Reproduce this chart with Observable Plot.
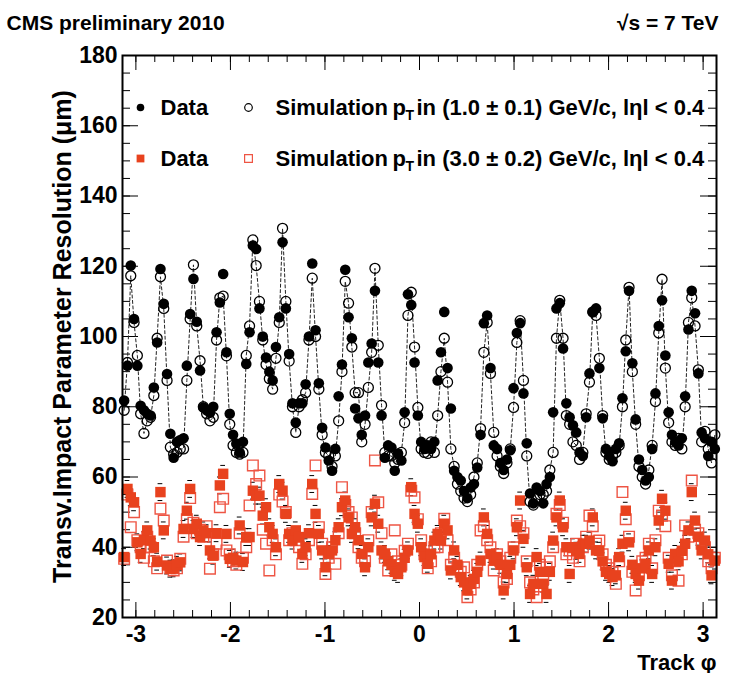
<!DOCTYPE html>
<html><head><meta charset="utf-8">
<script src="https://cdn.jsdelivr.net/npm/d3@7"></script>
<script src="https://cdn.jsdelivr.net/npm/@observablehq/plot@0.6"></script>
<style>
html,body{margin:0;padding:0;background:#fff;}
#chart svg{display:block;}
</style></head><body><div id="chart"></div>
<script>
// 180 phi bins over [-pi, pi]
const nBins = 180;
const phi = d3.range(nBins).map(i => -Math.PI + (i + 0.5) * 2 * Math.PI / nBins);

// pT = 1.0 GeV/c : data (filled circles) and simulation (open circles)
const dataLow = [
 81.8, 91.7, 120.2, 105, 91.7, 80.3, 79, 78, 77.5, 85.5,
 98.3, 119.2, 109.3, 89.3, 72.3, 65.5, 70, 70.5, 71, 91.7,
 106.4, 116.4, 104.2, 90.3, 79.8, 79, 78.3, 80, 101.2, 109.7,
 117.8, 95.5, 78, 72, 69.5, 67, 70, 92.2, 101.2, 125.9,
 124.9, 108, 100, 94, 90, 87.5, 97, 105.5, 126.8, 108,
 95, 81, 75.5, 81, 81, 86.4, 100, 120.8, 101.8, 86.7,
 74, 68.4, 64.7, 61.8, 68, 83, 92, 119, 105.5, 99.5,
 79.5, 76.7, 72, 77.5, 92.6, 98, 113, 92.6, 77.5, 65.5,
 69, 68.4, 61.8, 66.7, 64.7, 78.4, 112, 109, 92.6, 77.5,
 70, 68, 69, 68, 70, 87.5, 95.5, 107, 91, 79.5,
 61.8, 60, 59, 56, 54, 57, 58, 62.7, 72, 103.8,
 106, 91, 69, 68, 64, 62, 65, 67.6, 85.3, 101,
 103.8, 83.8, 69.6, 55.3, 52.5, 57, 56, 52.5, 58, 60,
 78.4, 108, 109.5, 96.6, 81, 77, 74.7, 72.7, 67, 66,
 77, 89.5, 107, 108, 91, 76.7, 68, 66, 64.5, 68,
 69.6, 82.4, 95.8, 113, 92.4, 76.4, 65, 62, 59, 60,
 68, 83.8, 103, 110.3, 94.6, 78.4, 72, 70, 69, 71,
 83, 102, 113, 106.6, 89.5, 72.7, 71, 66, 70, 68
];
const simLow = [
 79, 92.6, 117.3, 104, 94.6, 78, 72.4, 76, 77, 83.2,
 99.5, 117, 108, 87.5, 68.5, 66.5, 67, 68, 68, 87.5,
 105, 120.4, 103, 93.1, 80, 78, 76, 77, 99, 111,
 111.5, 94.5, 75, 69, 67, 66.5, 67, 94.6, 103, 127.5,
 120.2, 110, 99, 92, 88, 85, 93.8, 104, 130.8, 110,
 93, 80, 72.7, 80, 82, 84, 99, 116.6, 100, 85,
 72, 67, 66, 63, 66, 76, 90, 115.7, 109.5, 97,
 84, 84, 70, 75, 85.5, 95.5, 119.4, 97.5, 80.4, 67,
 66, 66, 64, 65, 67, 75.5, 106, 112.6, 97, 79.8,
 68, 67, 66.7, 70, 67, 77.5, 90, 99.5, 87, 68,
 63, 58, 56, 54, 53, 55, 60, 64, 73.8, 95.5,
 104, 89.5, 72.7, 66, 63, 61, 64, 68, 79.8, 98.3,
 104.5, 87.5, 66, 53, 52, 54, 55, 55, 56, 62,
 67, 99.5, 110.3, 99.5, 77.5, 75, 70, 69, 65, 67,
 78, 87, 107, 106, 93.8, 77.5, 67, 65, 66, 67,
 69, 80, 99, 114, 90, 75, 63, 60, 58, 62,
 69, 81.5, 101, 116.3, 91, 75.5, 70, 69, 71, 68,
 80, 104, 111, 103, 90.5, 70, 73, 68, 64, 72
];
// pT = 3.0 GeV/c : data (filled squares) and simulation (open squares)
const dataHigh = [
 37.2, 56.6, 54.2, 52.8, 41.4, 38.1, 42, 44.8, 41.9, 40,
 35.9, 55.7, 44.8, 34.8, 33.9, 34, 35, 35.7, 45.2, 50.4,
 56.6, 45.2, 46.7, 42.9, 44.8, 44, 39.1, 37.6, 44, 57.6,
 60.9, 43.8, 36.7, 37, 36.2, 46.2, 35.8, 42.9, 42.9, 56.1,
 54.7, 54.7, 49, 51.4, 45.7, 43.8, 40, 58, 56.1, 49.5,
 43.8, 41.9, 44.8, 42.9, 38.1, 40, 44, 58, 49.5, 43.8,
 39.1, 34.3, 38.1, 39.1, 42, 45.7, 51.4, 53.3, 48.5, 43.8,
 45.7, 42, 38.1, 34.3, 40, 48.5, 52.4, 46.7, 39.1, 38.1,
 36, 35, 33, 32.4, 34.3, 37, 39.1, 57.1, 49.5, 46.7,
 40, 37.2, 35.3, 38, 41.9, 43.8, 41.9, 46.7, 44.8, 33.4,
 39.1, 35, 31.5, 30, 27.7, 29.6, 31, 33, 36.2, 48.5,
 43.8, 38.1, 36.2, 37.2, 35, 27.7, 32.4, 35, 39.1, 45.7,
 53.3, 42.4, 34.3, 26.7, 29.6, 37.2, 33, 29.6, 26.7, 33,
 41.9, 48.5, 53.3, 45.7, 40, 32.4, 40, 39, 38.1, 41,
 41, 41.9, 48.5, 39.1, 39, 36, 33, 32.4, 31.5, 32,
 37.2, 41, 50.4, 41.4, 35, 32.4, 30.5, 34, 35.3, 39.1,
 32.4, 40, 47.6, 53.8, 50.4, 35.3, 30.5, 38.1, 36, 39,
 41, 44.8, 55.7, 47.6, 43, 39.1, 41.9, 38, 32, 36.2
];
const simHigh = [
 36.7, 55, 45.7, 50, 42, 40, 37, 43, 40, 36,
 34, 51, 47.6, 36.2, 34, 33.4, 34, 36.7, 43, 48,
 54, 47, 44, 45, 43, 46, 33.9, 38, 41, 51.4,
 53.8, 39.1, 38, 36, 35, 44, 37, 40, 51.9, 63.3,
 58, 60.4, 45, 41, 33.4, 42, 38, 55, 53, 50,
 42, 44, 42, 40, 35.3, 38, 42, 55.2, 63.3, 45.7,
 41, 32.4, 37, 40, 35.3, 44, 57.1, 52, 50, 48.5,
 44, 40, 37, 36, 42, 50, 64.7, 52.8, 44, 37,
 33.4, 38, 44.8, 36, 35, 39, 41, 56.1, 54.2, 48,
 42, 38, 34, 36, 40, 40, 44, 48.1, 42, 35,
 37, 34.3, 33, 34.3, 25.8, 28, 30, 35, 44.8, 46,
 42, 40, 33.4, 38, 36, 30, 31, 37, 40, 47.6,
 46, 44, 36, 30, 28, 25.8, 35, 31, 34.3, 36,
 40, 49.5, 52, 47, 38, 39.1, 37, 41, 36, 40,
 43, 49, 46, 41, 41.9, 38, 35, 34, 33, 29.6,
 36, 55.7, 48, 43, 33, 27.7, 32, 36, 37, 41,
 34, 42, 50.4, 49, 46, 37, 32, 36, 30.5, 38,
 46.2, 43, 59, 45, 44, 41, 40, 36, 34, 37
];
const errHigh = 2.4;

const xMajor = [-3, -2, -1, 0, 1, 2, 3];
const xMinor = d3.range(-3, 3.01, 0.2).map(v => +v.toFixed(1));
const yMajor = [20, 40, 60, 80, 100, 120, 140, 160, 180];
const yMinor = d3.range(20, 181, 5);

const rows = phi.map((p, i) => ({phi: p, d1: dataLow[i], s1: simLow[i], d2: dataHigh[i], s2: simHigh[i]}));

const RED = "#e8421e";
const RED_OPEN = "#ee5544";
const FONT = "Liberation Sans, Arial, Helvetica, sans-serif";
const LF = 22; // legend font
const innerH = 673 - 55 - 56, innerW = 729 - 122 - 13;

const legendText = (t, dx, dy, extra = {}) =>
  Plot.text([t], {text: d => d, frameAnchor: "top-left", dx, dy, textAnchor: "start", lineAnchor: "middle",
    fontSize: LF, fontWeight: "bold", fill: "black", ...extra});

const chart = Plot.plot({
  width: 729, height: 673,
  marginTop: 55, marginRight: 13, marginBottom: 56, marginLeft: 122,
  x: {domain: [-Math.PI, Math.PI]},
  y: {domain: [20, 180]},
  style: {fontFamily: FONT, background: "white", overflow: "visible"},
  marks: [
    // tick marks (inside, all four sides)
    Plot.ruleX(xMajor, {insetTop: innerH - 15, stroke: "black", strokeWidth: 1}),
    Plot.ruleX(xMajor, {insetBottom: innerH - 15, stroke: "black", strokeWidth: 1}),
    Plot.ruleX(xMinor, {insetTop: innerH - 7, stroke: "black", strokeWidth: 1}),
    Plot.ruleX(xMinor, {insetBottom: innerH - 7, stroke: "black", strokeWidth: 1}),
    Plot.ruleY(yMajor, {insetRight: innerW - 16, stroke: "black", strokeWidth: 1}),
    Plot.ruleY(yMajor, {insetLeft: innerW - 16, stroke: "black", strokeWidth: 1}),
    Plot.ruleY(yMinor, {insetRight: innerW - 8, stroke: "black", strokeWidth: 1}),
    Plot.ruleY(yMinor, {insetLeft: innerW - 8, stroke: "black", strokeWidth: 1}),
    // axes labels
    Plot.axisX({ticks: xMajor, tickSize: 0, tickPadding: 8, fontSize: 23, fontWeight: "bold",
      tickFormat: d => String(d), label: null}),
    Plot.axisY({ticks: yMajor, tickSize: 0, tickPadding: 5, fontSize: 23, fontWeight: "bold",
      tickFormat: d => String(d), label: null}),
    // simulation line (low pT)
    Plot.line(rows, {x: "phi", y: "s1", stroke: "#222", strokeWidth: 1, strokeDasharray: "3,2.5"}),
    // high pT error caps
    Plot.ruleY(rows, {y: d => d.d2 + errHigh, x1: d => d.phi - 0.025, x2: d => d.phi + 0.025, stroke: "black", strokeWidth: 1}),
    Plot.ruleY(rows, {y: d => d.d2 - errHigh, x1: d => d.phi - 0.025, x2: d => d.phi + 0.025, stroke: "black", strokeWidth: 1}),
    // high pT
    Plot.dot(rows, {x: "phi", y: "s2", symbol: "square", r: 6.0, stroke: RED_OPEN, strokeWidth: 1.4, fill: "none"}),
    Plot.dot(rows, {x: "phi", y: "d2", symbol: "square", r: 5.9, fill: RED, stroke: "none"}),
    // low pT
    Plot.dot(rows, {x: "phi", y: "s1", r: 5.0, stroke: "black", strokeWidth: 1.3, fill: "none"}),
    Plot.dot(rows, {x: "phi", y: "d1", r: 5.3, fill: "black", stroke: "none"}),
    Plot.frame({stroke: "black", strokeWidth: 2}),
    // legend
    Plot.dot([0], {frameAnchor: "top-left", dx: 18, dy: 52, r: 3.8, fill: "black"}),
    legendText("Data", 38, 52),
    Plot.dot([0], {frameAnchor: "top-left", dx: 126, dy: 52, r: 3.8, stroke: "black", strokeWidth: 1.2, fill: "none"}),
    legendText("Simulation", 153, 52),
    legendText("p", 270, 52),
    legendText("T", 283, 60, {fontSize: 14}),
    legendText("in (1.0 \u00b1 0.1) GeV/c, l\u03b7l < 0.4", 294, 52),
    Plot.dot([0], {frameAnchor: "top-left", dx: 18, dy: 103, r: 4.4, symbol: "square", fill: RED}),
    legendText("Data", 38, 103),
    Plot.dot([0], {frameAnchor: "top-left", dx: 126, dy: 103, r: 4.4, symbol: "square", stroke: RED_OPEN, strokeWidth: 1.2, fill: "none"}),
    legendText("Simulation", 153, 103),
    legendText("p", 270, 103),
    legendText("T", 283, 111, {fontSize: 14}),
    legendText("in (3.0 \u00b1 0.2) GeV/c, l\u03b7l < 0.4", 294, 103),
    // titles
    Plot.text(["CMS preliminary 2010"], {text: d => d, frameAnchor: "top-left", dx: -116, dy: -32,
      textAnchor: "start", lineAnchor: "middle", fontSize: 21, fontWeight: "bold"}),
    Plot.text(["\u221as = 7 TeV"], {text: d => d, frameAnchor: "top-right", dx: 2, dy: -32,
      textAnchor: "end", lineAnchor: "middle", fontSize: 21, fontWeight: "bold"}),
    Plot.text(["Track \u03c6"], {text: d => d, frameAnchor: "bottom-right", dx: 0, dy: 45,
      textAnchor: "end", lineAnchor: "middle", fontSize: 22, fontWeight: "bold"}),
    Plot.text(["Transv.Impact Parameter Resolution (\u03bcm)"], {text: d => d, frameAnchor: "left", dx: -60,
      rotate: -90, textAnchor: "middle", lineAnchor: "middle", fontSize: 25, fontWeight: "bold"})
  ]
});
document.getElementById("chart").appendChild(chart);
</script>
</body></html>
